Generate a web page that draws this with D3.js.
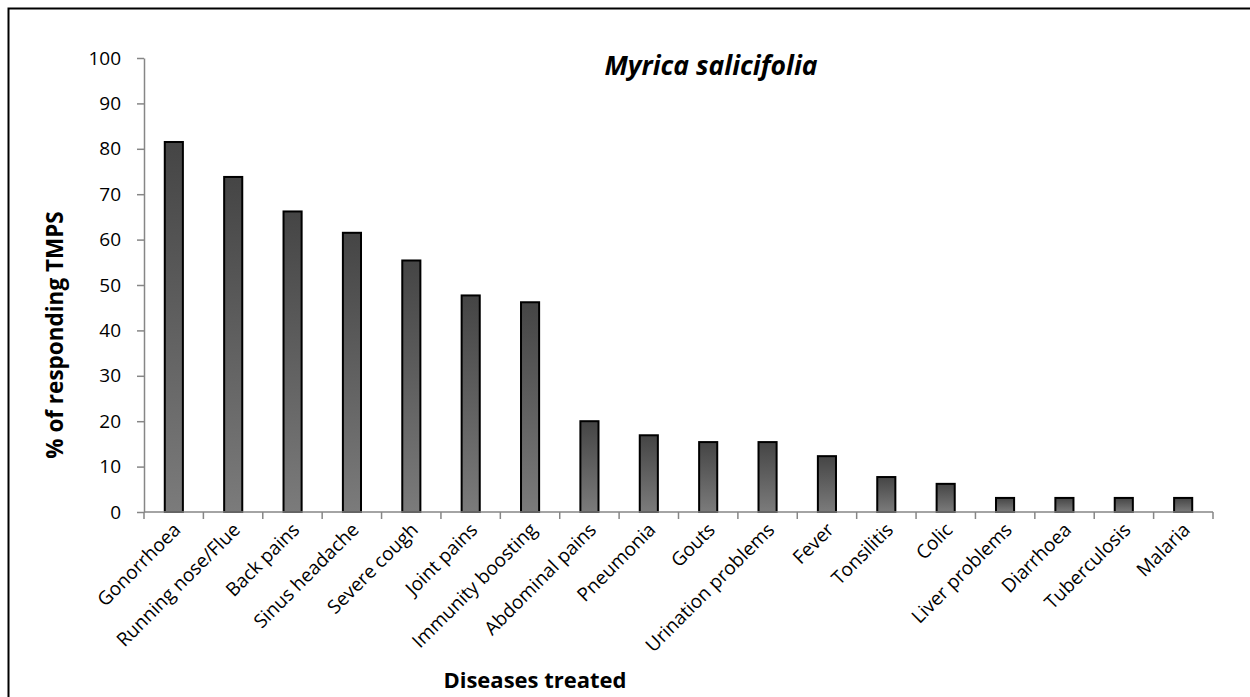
<!DOCTYPE html>
<html>
<head>
<meta charset="utf-8">
<script src="https://cdn.jsdelivr.net/npm/d3@7"></script>
<style>
  html, body { margin: 0; padding: 0; background: #fff; }
  svg { display: block; }
  text { font-family: "Open Sans", Lato, sans-serif; fill: #000; }
</style>
</head>
<body>
<svg id="chart" width="1250" height="697"></svg>
<script>
// Diseases treated with Myrica salicifolia
const categories = [
  "Gonorrhoea", "Running nose/Flue", "Back pains", "Sinus headache",
  "Severe cough", "Joint pains", "Immunity boosting", "Abdominal pains",
  "Pneumonia", "Gouts", "Urination problems", "Fever", "Tonsilitis",
  "Colic", "Liver problems", "Diarrhoea", "Tuberculosis", "Malaria"
];
// Share of responding TMPs (%)
const percentages = [
  81.5, 73.8, 66.2, 61.5, 55.4, 47.7, 46.2, 20.0, 16.9,
  15.4, 15.4, 12.3, 7.7, 6.2, 3.1, 3.1, 3.1, 3.1
];
const yTicks = [0, 10, 20, 30, 40, 50, 60, 70, 80, 90, 100];

const titleText = "Myrica salicifolia";
const yTitle = "% of responding TMPS";
const xTitle = "Diseases treated";

const svg = d3.select("#chart");

// outer frame
svg.append("rect")
  .attr("x", 8.5).attr("y", 8.5)
  .attr("width", 1260).attr("height", 720)
  .attr("fill", "none").attr("stroke", "#000").attr("stroke-width", 2);

const plot = { left: 144, right: 1213, top: 58, bottom: 512 };

const x = d3.scaleBand()
  .domain(categories)
  .range([plot.left, plot.right])
  .paddingInner(0.695)
  .paddingOuter(0.35);

const y = d3.scaleLinear()
  .domain([0, 100])
  .range([plot.bottom, plot.top]);

// vertical gradient for bars
const defs = svg.append("defs");
const grad = defs.append("linearGradient")
  .attr("id", "barFill")
  .attr("x1", 0).attr("y1", 0).attr("x2", 0).attr("y2", 1);
grad.append("stop").attr("offset", "0%").attr("stop-color", "#454545");
grad.append("stop").attr("offset", "100%").attr("stop-color", "#7b7b7b");

// bars
svg.append("g")
  .selectAll("rect")
  .data(categories)
  .join("rect")
  .attr("x", d => x(d))
  .attr("y", (d, i) => y(percentages[i]))
  .attr("width", x.bandwidth())
  .attr("height", (d, i) => y(0) - y(percentages[i]))
  .attr("fill", "url(#barFill)")
  .attr("stroke", "#000")
  .attr("stroke-width", 2);

// y axis
const yAxis = svg.append("g")
  .attr("transform", `translate(${plot.left},0)`)
  .call(d3.axisLeft(y).tickValues(yTicks).tickSize(7).tickPadding(16).tickSizeOuter(0));
yAxis.select(".domain").attr("stroke", "#868686").attr("stroke-width", 1.5);
yAxis.selectAll(".tick line").attr("stroke", "#868686").attr("stroke-width", 1.5);
yAxis.selectAll(".tick text")
  .style("font-family", "'Open Sans', Lato, sans-serif")
  .style("font-size", "19px")
  .attr("fill", "#000");

// x axis: ticks on category boundaries
const boundaries = d3.range(categories.length + 1).map(i => plot.left + i * (plot.right - plot.left) / categories.length);
const xAxisG = svg.append("g");
xAxisG.append("line")
  .attr("x1", plot.left).attr("x2", plot.right)
  .attr("y1", y(0)).attr("y2", y(0))
  .attr("stroke", "#868686").attr("stroke-width", 1.5);
xAxisG.selectAll("line.tk")
  .data(boundaries)
  .join("line")
  .attr("class", "tk")
  .attr("x1", d => d).attr("x2", d => d)
  .attr("y1", y(0)).attr("y2", y(0) + 7)
  .attr("stroke", "#868686").attr("stroke-width", 1.5);

// rotated category labels
xAxisG.selectAll("text")
  .data(categories)
  .join("text")
  .attr("transform", d => `translate(${x(d) + x.bandwidth() / 2 + 8},${y(0) + 19}) rotate(-45)`)
  .attr("text-anchor", "end")
  .style("font-size", "19px")
  .text(d => d);

// chart title
svg.append("text")
  .attr("x", 711).attr("y", 75)
  .attr("text-anchor", "middle")
  .style("font-size", "26.5px")
  .style("font-weight", "bold")
  .style("font-style", "italic")
  .text(titleText);

// axis titles
svg.append("text")
  .attr("transform", "translate(63,335) rotate(-90)")
  .attr("text-anchor", "middle")
  .style("font-size", "22.5px")
  .style("font-weight", "bold")
  .text(yTitle);

svg.append("text")
  .attr("x", 535).attr("y", 688)
  .attr("text-anchor", "middle")
  .style("font-size", "22px")
  .style("font-weight", "bold")
  .text(xTitle);
</script>
</body>
</html>
